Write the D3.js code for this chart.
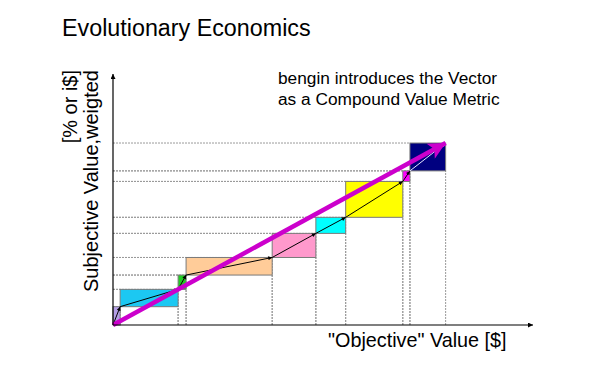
<!DOCTYPE html>
<html>
<head>
<meta charset="utf-8">
<script src="https://cdn.jsdelivr.net/npm/d3@7"></script>
<style>
  html, body { margin: 0; padding: 0; background: #fff; }
  svg text { font-family: "Liberation Sans", Arial, sans-serif; fill: #000; }
</style>
</head>
<body>
<div id="chart"></div>
<script>
// Stufen: objektiver Wert (x) und subjektiver Wert (y), jeweils Eckpunkte
const objective  = [0, 1.7, 15.5, 17.4, 37.9, 48.3, 55.4, 69.0, 70.7, 79.2];
const subjective = [0, 7.3, 14.2, 19.9, 26.9, 36.5, 42.9, 57.2, 61.4, 72.5];
const boxColors  = ["#b49ee6", "#1cc8f2", "#22cc22", "#ffcc99", "#ff99cc", "#00ffff", "#ffff00", "#ff00ff", "#000080"];
const arrowColors = ["#000", "#000", "#000", "#000", "#000", "#000", "#000", "#000", "#e8e8ff"];

const TITLE   = "Evolutionary Economics";
const NOTE    = ["bengin introduces the Vector", "as a Compound Value Metric"];
const X_LABEL = "\"Objective\" Value [$]";
const Y_LABEL = ["[% or i$]", "Subjective Value,weigted"];

const width = 605, height = 374;

const x = d3.scaleLinear().domain([0, 100]).range([113, 533]);
const y = d3.scaleLinear().domain([0, 100]).range([325, 74]);

const svg = d3.select("#chart").append("svg")
  .attr("width", width).attr("height", height)
  .attr("viewBox", `0 0 ${width} ${height}`);

// Marker
const defs = svg.append("defs");
defs.append("marker").attr("id", "ax-head")
  .attr("markerUnits", "userSpaceOnUse").attr("viewBox", "0 0 10 10")
  .attr("refX", 10).attr("refY", 5).attr("markerWidth", 6).attr("markerHeight", 5)
  .attr("orient", "auto")
  .append("path").attr("d", "M0,0L10,5L0,10z").attr("fill", "#000");

arrowColors.forEach((c, i) => {
  defs.append("marker").attr("id", `step-head-${i}`)
    .attr("markerUnits", "userSpaceOnUse").attr("viewBox", "0 0 10 10")
    .attr("refX", 10).attr("refY", 5).attr("markerWidth", 6).attr("markerHeight", 4)
    .attr("orient", "auto")
    .append("path").attr("d", "M0,0L10,5L0,10z").attr("fill", c);
});

defs.append("marker").attr("id", "vec-head")
  .attr("markerUnits", "userSpaceOnUse").attr("viewBox", "0 0 10 10")
  .attr("refX", 10).attr("refY", 5).attr("markerWidth", 21).attr("markerHeight", 17)
  .attr("orient", "auto")
  .append("path").attr("d", "M0,0L10,5L0,10L2.5,5z").attr("fill", "#cc00cc");

// Stufen-Daten
const steps = d3.range(objective.length - 1).map(i => ({
  x0: objective[i], x1: objective[i + 1],
  y0: subjective[i], y1: subjective[i + 1],
  color: boxColors[i], arrow: arrowColors[i], i
}));

// Hilfslinien (gepunktet)
const guides = svg.append("g")
  .attr("stroke", "#9a9a9a").attr("stroke-width", 1).attr("stroke-dasharray", "2,1").attr("fill", "none");

steps.forEach(d => {
  guides.append("line").attr("x1", x(0)).attr("x2", x(d.x0)).attr("y1", y(d.y1)).attr("y2", y(d.y1));
  guides.append("line").attr("x1", x(0)).attr("x2", x(d.x0)).attr("y1", y(d.y0)).attr("y2", y(d.y0));
  guides.append("line").attr("x1", x(d.x0)).attr("x2", x(d.x0)).attr("y1", y(0)).attr("y2", y(d.y0));
  guides.append("line").attr("x1", x(d.x1)).attr("x2", x(d.x1)).attr("y1", y(0)).attr("y2", y(d.y0));
});

// Kästen
svg.append("g").selectAll("rect").data(steps).join("rect")
  .attr("x", d => x(d.x0)).attr("y", d => y(d.y1))
  .attr("width", d => x(d.x1) - x(d.x0))
  .attr("height", d => y(d.y0) - y(d.y1))
  .attr("fill", d => d.color)
  .attr("stroke", "#7a7a7a").attr("stroke-width", 1);

// Schritt-Pfeile
svg.append("g").selectAll("line").data(steps).join("line")
  .attr("x1", d => x(d.x0)).attr("y1", d => y(d.y0))
  .attr("x2", d => x(d.x1)).attr("y2", d => y(d.y1))
  .attr("stroke", d => d.arrow).attr("stroke-width", 1)
  .attr("marker-end", d => `url(#step-head-${d.i})`);

// Vektor
const last = objective.length - 1;
svg.append("line")
  .attr("x1", x(0)).attr("y1", y(0))
  .attr("x2", x(objective[last])).attr("y2", y(subjective[last]))
  .attr("stroke", "#cc00cc").attr("stroke-width", 4.5)
  .attr("marker-end", "url(#vec-head)");

// Achsen
svg.append("line").attr("x1", x(0)).attr("x2", x(100)).attr("y1", y(0)).attr("y2", y(0))
  .attr("stroke", "#000").attr("stroke-width", 1.2).attr("marker-end", "url(#ax-head)");
svg.append("line").attr("x1", x(0)).attr("x2", x(0)).attr("y1", y(0)).attr("y2", y(100))
  .attr("stroke", "#000").attr("stroke-width", 1.2).attr("marker-end", "url(#ax-head)");

// Texte
svg.append("text").attr("x", 62).attr("y", 36).attr("font-size", 23.3).text(TITLE);

svg.append("g").selectAll("text").data(NOTE).join("text")
  .attr("x", 278).attr("y", (d, i) => 84 + i * 21)
  .attr("font-size", 17.3).text(d => d);

svg.append("text").attr("x", 328).attr("y", 347).attr("font-size", 19.8).text(X_LABEL);

svg.append("g").selectAll("text").data(Y_LABEL).join("text")
  .attr("transform", (d, i) => `translate(${77 + i * 20.5},70) rotate(-90)`)
  .attr("text-anchor", "end")
  .attr("font-size", 20).text(d => d);
</script>
</body>
</html>
